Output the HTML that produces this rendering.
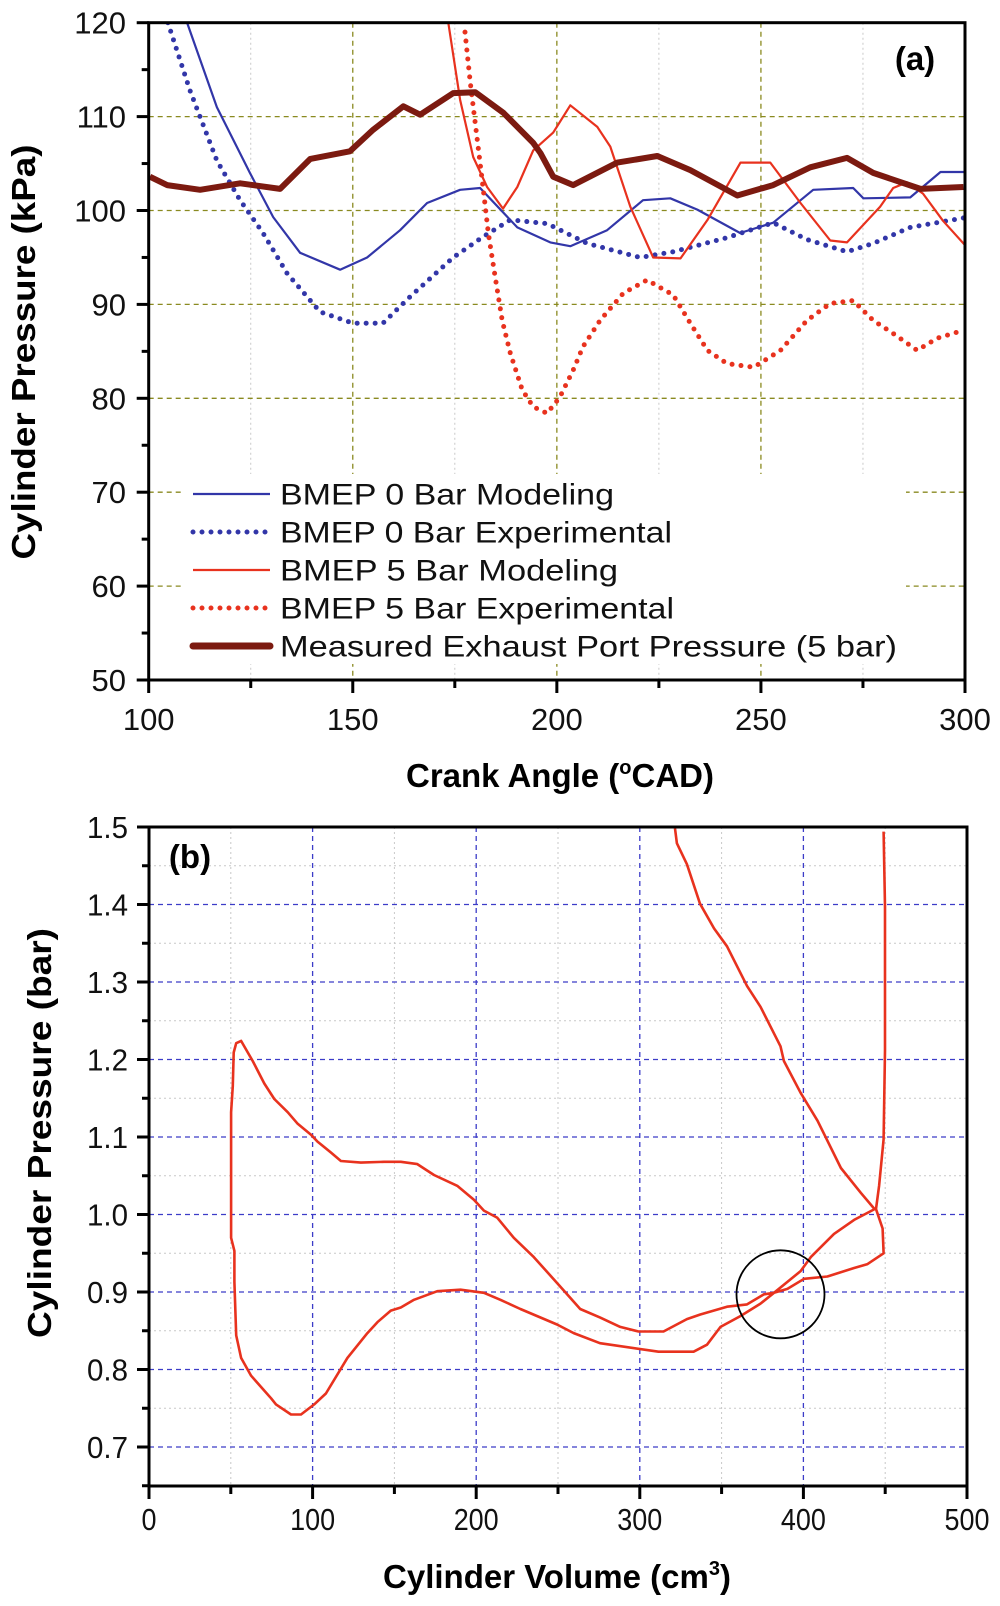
<!DOCTYPE html>
<html><head><meta charset="utf-8"><style>
html,body{margin:0;padding:0;background:#fff;}
svg{display:block;font-family:"Liberation Sans",Arial,sans-serif;}
</style></head><body>
<svg id="fig" width="1000" height="1606" viewBox="0 0 1000 1606" xmlns="http://www.w3.org/2000/svg"></svg>
<script>
// ---- Panel (a) data: crank angle (CAD), pressure (kPa)
const blueModCad = [109.4,116.7,124.8,130.5,137.1,146.9,153.5,161.6,168.2,176.3,181.2,190.3,198.4,203.3,212.3,221.1,227.8,234.4,244.9,253.0,262.8,272.6,275.1,286.6,294.0,300];
const blueModKpa = [120,111.0,104.0,99.3,95.5,93.7,95.0,97.9,100.8,102.2,102.4,98.2,96.6,96.2,97.9,101.1,101.3,100.1,97.6,98.7,102.2,102.4,101.3,101.4,104.1,104.1];
const blueExpCad = [104.7,110.1,116.7,122.4,128.0,133.9,142.0,150.0,157.4,164.0,174.6,181.9,188.6,197.6,207.4,220.4,228.5,241.7,253.0,261.3,271.1,277.5,286.6,299.6];
const blueExpKpa = [120,112.8,105.3,101.1,97.6,93.3,89.2,88.0,88.0,90.8,95.0,97.2,99.0,98.6,96.5,95.0,95.6,97.1,98.7,96.9,95.6,96.5,98.2,99.2];
const redModCad = [173.4,176.3,179.5,182.9,186.8,190.3,194.2,199.1,203.3,209.9,213.1,218.0,223.6,230.3,236.9,245.0,252.3,259.7,267.0,271.1,279.2,282.4,285.8,289.7,294.6,300];
const redModKpa = [120,111.8,105.7,102.5,100.2,102.5,106.4,108.3,111.2,108.9,106.8,100.4,95.0,94.9,99.0,105.1,105.1,100.8,96.8,96.6,100.4,102.4,103.0,101.8,98.9,96.3];
const redExpCad = [177.5,178.8,180.5,181.9,183.2,184.9,186.6,188.6,191.5,194.2,197.6,200.7,204.0,206.4,210.6,216.3,222.1,228.5,232.7,236.9,241.7,248.2,254.8,261.3,267.0,272.6,277.5,282.4,288.3,293.2,299.3];
const redExpKpa = [119.0,113.6,107.5,102.5,97.6,92.9,88.3,84.8,80.9,79.1,78.4,80.1,83.0,85.5,88.3,91.2,92.6,91.0,88.0,85.1,83.7,83.3,85.1,88.3,90.1,90.4,88.3,86.9,85.1,86.4,87.2];
const exhCad = [100.3,104.5,112.6,122.4,132.2,139.6,149.3,155.0,162.4,166.5,174.6,180.0,186.9,194.2,196.0,199.1,204.0,214.8,224.6,232.7,244.2,253.0,262.1,271.1,277.5,289.1,299.6];
const exhKpa = [103.6,102.7,102.2,102.9,102.3,105.5,106.3,108.6,111.1,110.2,112.5,112.6,110.4,107.2,106.1,103.6,102.7,105.1,105.8,104.3,101.6,102.7,104.6,105.6,104.0,102.3,102.5];
const aXTicks = [100,150,200,250,300];
const aYTicks = [50,60,70,80,90,100,110,120];
const legendLabels = ["BMEP 0 Bar Modeling","BMEP 0 Bar Experimental","BMEP 5 Bar Modeling","BMEP 5 Bar Experimental","Measured Exhaust Port Pressure (5 bar)"];
// ---- Panel (b) data: volume (cm3), pressure (bar)
const pvVol = [449,449.9,449.9,449,446.3,444.4,448.4,449,439.2,431,414.7,400.4,390.2,382,375.9,365.5,353.3,337,328.8,314.5,299.2,288,275.8,263.6,251.4,235.2,223,212.8,204.7,198.6,188.4,174.2,164,153.9,143.7,129.5,117.3,111.2,103,99,90.9,84.8,76.6,70.5,63.4,56.3,53.3,51.8,51.2,50.2,50.2,50.2,52.2,52.2,53.3,56.3,62.4,74.6,77.6,86.8,92.9,101,108.1,121.3,133.5,139.6,147.8,153.9,162,176.2,190.4,204.7,214.8,227,249.4,259.6,275.7,311.4,332.9,341.1,349.3,361.6,373.8,382,390.2,398.3,404.5,418.7,431,443.5,435.1,422.9,408.6,398.3,388.1,386,373.8,365.5,353.3,345.4,336.8,328.8,322.7,321.5];
const pvBar = [1.494,1.397,1.212,1.097,1.037,1.007,0.982,0.95,0.936,0.931,0.92,0.917,0.904,0.899,0.897,0.884,0.881,0.871,0.865,0.849,0.849,0.855,0.867,0.878,0.907,0.945,0.970,0.996,1.005,1.019,1.037,1.051,1.065,1.068,1.068,1.067,1.069,1.08,1.094,1.103,1.117,1.132,1.149,1.169,1.198,1.224,1.221,1.209,1.166,1.132,1.057,0.970,0.953,0.913,0.844,0.815,0.792,0.763,0.755,0.742,0.742,0.755,0.769,0.815,0.847,0.861,0.876,0.880,0.890,0.901,0.903,0.899,0.890,0.878,0.858,0.847,0.834,0.823,0.823,0.832,0.855,0.869,0.885,0.899,0.913,0.927,0.945,0.975,0.993,1.007,1.028,1.06,1.121,1.157,1.198,1.217,1.268,1.295,1.346,1.369,1.401,1.452,1.479,1.498];
const bXTicks = [0,100,200,300,400,500];
const bYTicks = [0.7,0.8,0.9,1.0,1.1,1.2,1.3,1.4,1.5];
const circleCenter = [386, 0.897];

const NS="http://www.w3.org/2000/svg";
const svg=document.getElementById('fig');
function mk(tag,attrs,parent){const e=document.createElementNS(NS,tag);for(const k in attrs)e.setAttribute(k,attrs[k]);(parent||svg).appendChild(e);return e;}

const A={l:148.7,r:965,t:22.7,b:680};
const ax=c=>A.l+(c-100)*(A.r-A.l)/200;
const ay=k=>A.b-(k-50)*(A.b-A.t)/70;
const B={l:149,r:967,t:827,b:1486};
const bx=v=>B.l+v*(B.r-B.l)/500;
const by=p=>B.t+(1.5-p)*775;

// ---------- Panel A ----------
const gA=mk('g',{});


const clipA=mk('clipPath',{id:'clipA'},gA);mk('rect',{x:A.l,y:A.t,width:A.r-A.l,height:A.b-A.t},clipA);
for(let c=125;c<300;c+=50){const l=mk('line',{x1:ax(c),x2:ax(c),y1:A.t,y2:A.b,stroke:'#c8c8c8','stroke-width':1,'stroke-dasharray':'2 3'},gA);
}
aXTicks.slice(1,-1).forEach(c=>{const l=mk('line',{x1:ax(c),x2:ax(c),y1:A.t,y2:A.b,stroke:'#8a8a20','stroke-width':1.3,'stroke-dasharray':'5 4'},gA);
});
aYTicks.slice(1,-1).forEach(k=>{const l=mk('line',{x1:A.l,x2:A.r,y1:ay(k),y2:ay(k),stroke:'#8a8a20','stroke-width':1.3,'stroke-dasharray':'5 4'},gA);
});

function poly(xs,ys,fx,fy,attrs,parent,name){
  const d=xs.map((v,i)=>(i?'L':'M')+fx(v).toFixed(1)+' '+fy(ys[i]).toFixed(1)).join(' ');
  const p=mk('path',Object.assign({d:d,fill:'none','stroke-linejoin':'round'},attrs),parent);
  return p;}
const series=mk('g',{'clip-path':'url(#clipA)'},gA);

poly(blueExpCad,blueExpKpa,ax,ay,{stroke:'#3236a8','stroke-width':5,'stroke-linecap':'round','stroke-dasharray':'0 9'},series,'bmep0-experimental-line');
poly(blueModCad,blueModKpa,ax,ay,{stroke:'#3236a8','stroke-width':2.2},series,'bmep0-modeling-line');
poly(redExpCad,redExpKpa,ax,ay,{stroke:'#e8321e','stroke-width':5,'stroke-linecap':'round','stroke-dasharray':'0 9'},series,'bmep5-experimental-line');
poly(redModCad,redModKpa,ax,ay,{stroke:'#e8321e','stroke-width':2.2},series,'bmep5-modeling-line');
poly(exhCad,exhKpa,ax,ay,{stroke:'#7c1a10','stroke-width':6},series,'exhaust-port-pressure-line');

const lg=mk('g',{},gA);

mk('rect',{x:184,y:474,width:722,height:190,fill:'#fff'},lg);
const lgStyles=[{stroke:'#3236a8','stroke-width':2.2},{stroke:'#3236a8','stroke-width':5,'stroke-linecap':'round','stroke-dasharray':'0 9'},{stroke:'#e8321e','stroke-width':2.2},{stroke:'#e8321e','stroke-width':5,'stroke-linecap':'round','stroke-dasharray':'0 9'},{stroke:'#7c1a10','stroke-width':7,'stroke-linecap':'round'}];
const lgWidths=[334,392,338,394,617];
legendLabels.forEach((t,i)=>{const y=494+i*38;
  const s=mk('line',Object.assign({x1:193,x2:270,y1:y,y2:y},lgStyles[i]),lg);
  
  const tx=mk('text',{x:280,y:y+10.5,'font-size':30,fill:'#111',textLength:lgWidths[i],lengthAdjust:'spacingAndGlyphs'},lg);tx.textContent=t;
  });

mk('rect',{x:A.l,y:A.t,width:A.r-A.l,height:A.b-A.t,fill:'none',stroke:'#000','stroke-width':3},gA);
for(let k=50;k<=120;k+=5){const major=k%10===0;mk('line',{x1:A.l-(major?12:7),x2:A.l,y1:ay(k),y2:ay(k),stroke:'#000','stroke-width':3},gA);}
for(let c=100;c<=300;c+=25){const major=c%50===0;mk('line',{x1:ax(c),x2:ax(c),y1:A.b,y2:A.b+(major?13:8),stroke:'#000','stroke-width':3},gA);}
aYTicks.forEach(k=>{const t=mk('text',{x:126,y:ay(k)+11,'font-size':31,'text-anchor':'end',fill:'#111'},gA);t.textContent=k;
  });
aXTicks.forEach(c=>{const t=mk('text',{x:ax(c),y:730,'font-size':31,'text-anchor':'middle',fill:'#111'},gA);t.textContent=c;
  });
const tA=mk('text',{x:915,y:70,'font-size':33,'font-weight':'bold','text-anchor':'middle'},gA);tA.textContent='(a)';

const xtA=mk('text',{x:560,y:787,'font-size':33,'font-weight':'bold','text-anchor':'middle'},gA);
xtA.innerHTML='Crank Angle (<tspan font-size="20" dy="-13">o</tspan><tspan dy="13">CAD)</tspan>';

const ytA=mk('text',{x:0,y:0,'font-size':33,'font-weight':'bold','text-anchor':'middle',transform:'translate(35,352) rotate(-90)',textLength:415,lengthAdjust:'spacingAndGlyphs'},gA);
ytA.textContent='Cylinder Pressure (kPa)';

// ---------- Panel B ----------
const gB=mk('g',{});

for(let v=50;v<500;v+=100){const l=mk('line',{x1:bx(v),x2:bx(v),y1:B.t,y2:B.b,stroke:'#c8c8c8','stroke-width':1,'stroke-dasharray':'2 3'},gB);
}
for(let p=0.75;p<1.5;p+=0.1){const l=mk('line',{x1:B.l,x2:B.r,y1:by(p),y2:by(p),stroke:'#c8c8c8','stroke-width':1,'stroke-dasharray':'2 3'},gB);
}
bXTicks.slice(1,-1).forEach(v=>{const l=mk('line',{x1:bx(v),x2:bx(v),y1:B.t,y2:B.b,stroke:'#3c3cc8','stroke-width':1.3,'stroke-dasharray':'5 4'},gB);
});
bYTicks.slice(0,-1).forEach(p=>{const l=mk('line',{x1:B.l,x2:B.r,y1:by(p),y2:by(p),stroke:'#3c3cc8','stroke-width':1.3,'stroke-dasharray':'5 4'},gB);
});
poly(pvVol,pvBar,bx,by,{stroke:'#e8321e','stroke-width':2.6},gB,'pv-loop-line');
const circ=mk('circle',{cx:bx(circleCenter[0]),cy:by(circleCenter[1]),r:44,fill:'none',stroke:'#000','stroke-width':1.8},gB);

mk('rect',{x:B.l,y:B.t,width:B.r-B.l,height:B.b-B.t,fill:'none',stroke:'#000','stroke-width':3},gB);
for(let i=0;i<=17;i++){const p=0.65+i*0.05;const major=i%2===1;mk('line',{x1:B.l-(major?12:7),x2:B.l,y1:by(p),y2:by(p),stroke:'#000','stroke-width':3},gB);}
for(let v=0;v<=500;v+=50){const major=v%100===0;mk('line',{x1:bx(v),x2:bx(v),y1:B.b,y2:B.b+(major?13:8),stroke:'#000','stroke-width':3},gB);}
bYTicks.forEach(p=>{const t=mk('text',{x:128,y:by(p)+11,'font-size':31,'text-anchor':'end',fill:'#111',textLength:41,lengthAdjust:'spacingAndGlyphs'},gB);t.textContent=p.toFixed(1);
  });
bXTicks.forEach(v=>{const s=String(v);const t=mk('text',{x:bx(v),y:1530,'font-size':31,'text-anchor':'middle',fill:'#111',textLength:s.length*15,lengthAdjust:'spacingAndGlyphs'},gB);t.textContent=s;
  });
const tB=mk('text',{x:190,y:868,'font-size':33,'font-weight':'bold','text-anchor':'middle'},gB);tB.textContent='(b)';

const xtB=mk('text',{x:557,y:1588,'font-size':33,'font-weight':'bold','text-anchor':'middle'},gB);
xtB.innerHTML='Cylinder Volume (cm<tspan font-size="20" dy="-13">3</tspan><tspan dy="13">)</tspan>';

const ytB=mk('text',{x:0,y:0,'font-size':33,'font-weight':'bold','text-anchor':'middle',transform:'translate(51,1133) rotate(-90)',textLength:410,lengthAdjust:'spacingAndGlyphs'},gB);
ytB.textContent='Cylinder Pressure (bar)';
</script>
</body></html>
